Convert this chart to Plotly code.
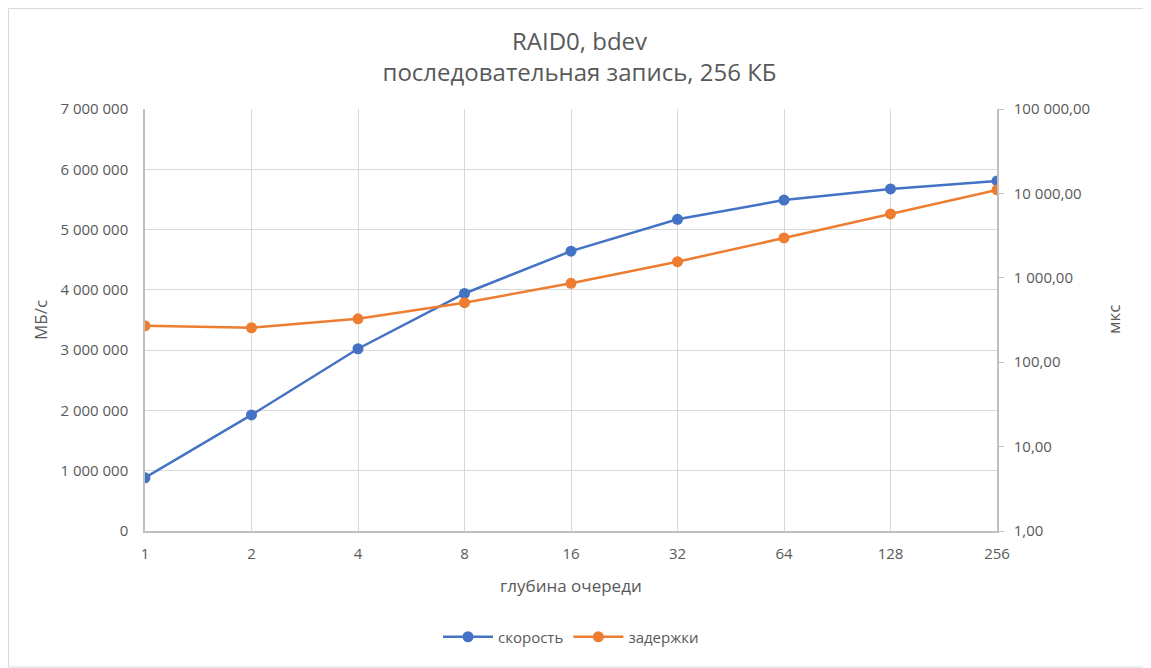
import plotly.graph_objects as go

# queue depth categories
depths = ["1", "2", "4", "8", "16", "32", "64", "128", "256"]

# throughput, MB/s (left axis)
speed = [883000, 1925000, 3023000, 3940000, 4642000, 5170000, 5490000, 5674000, 5807000]

# latency, us (right axis, log)
latency = [270, 256, 327, 507, 861, 1552, 2966, 5714, 11010]

left_ticks = [0, 1000000, 2000000, 3000000, 4000000, 5000000, 6000000, 7000000]
left_labels = ["0", "1 000 000", "2 000 000", "3 000 000", "4 000 000",
               "5 000 000", "6 000 000", "7 000 000"]
right_ticks = [1, 10, 100, 1000, 10000, 100000]
right_labels = ["1,00", "10,00", "100,00", "1 000,00", "10 000,00", "100 000,00"]

FONT = "Open Sans"
GREY = "#595959"
GRID = "#d9d9d9"
AXIS = "#bfbfbf"

fig = go.Figure()
fig.add_trace(go.Scatter(
    x=depths, y=speed, name="скорость", mode="lines+markers",
    line=dict(color="#4472c4", width=2.5),
    marker=dict(color="#4472c4", size=11),
))
fig.add_trace(go.Scatter(
    x=depths, y=latency, name="задержки", mode="lines+markers", yaxis="y2",
    line=dict(color="#ed7d31", width=2.5),
    marker=dict(color="#ed7d31", size=11),
))

# the page puts the figure 8px in from the top-left corner
OFF = 8
W, H = 1151 - OFF, 668 - OFF
L, T = 145 - OFF, 109 - OFF
R, B = 1151 - 997, 668 - 531
pw, ph = W - L - R, H - T - B


def px_x(x):
    # page x pixel -> paper coord
    return (x - OFF - L) / pw


def px_y(y):
    # page y pixel -> paper coord
    return 1 - (y - OFF - T) / ph


fig.update_layout(
    width=W, height=H,
    margin=dict(l=L, r=R, t=T, b=B),
    paper_bgcolor="white", plot_bgcolor="white",
    font=dict(family=FONT, size=15, color=GREY),
    title=dict(
        text="RAID0, bdev<br>последовательная запись, 256 КБ",
        x=0.5, xanchor="center", y=1 - (50 - OFF) / H, yanchor="middle",
        font=dict(size=24, color=GREY),
    ),
    xaxis=dict(
        type="category", range=[0, len(depths) - 1],
        showgrid=True, gridcolor=GRID, gridwidth=1,
        showline=True, linecolor=AXIS, linewidth=1.5,
        ticks="", ticklabelstandoff=8, tickfont=dict(size=15, color=GREY),
    ),
    yaxis=dict(
        range=[0, 7000000], tickvals=left_ticks, ticktext=left_labels,
        showgrid=True, gridcolor=GRID, gridwidth=1, zeroline=False,
        showline=True, linecolor=AXIS, linewidth=1.5, ticks="",
        ticklabelstandoff=12, tickfont=dict(size=15, color=GREY),
    ),
    yaxis2=dict(
        type="log", range=[0, 5], overlaying="y", side="right",
        tickvals=right_ticks, ticktext=right_labels,
        showgrid=False, zeroline=False,
        showline=True, linecolor=AXIS, linewidth=1.5,
        ticks="outside", ticklen=5, tickcolor=AXIS,
        ticklabelstandoff=7, tickfont=dict(size=15, color=GREY),
    ),
    legend=dict(
        orientation="h", x=0.5, xanchor="center",
        y=px_y(637), yanchor="middle",
        font=dict(size=15, color=GREY), itemwidth=50,
    ),
    showlegend=True,
)

# axis titles
title_font = dict(size=17, color=GREY)
fig.add_annotation(text="МБ/с", xref="paper", yref="paper", x=px_x(40), y=px_y(320),
                   xanchor="center", yanchor="middle", textangle=-90,
                   showarrow=False, font=title_font)
fig.add_annotation(text="мкс", xref="paper", yref="paper", x=px_x(1113), y=px_y(320),
                   xanchor="center", yanchor="middle", textangle=-90,
                   showarrow=False, font=title_font)
fig.add_annotation(text="глубина очереди", xref="paper", yref="paper", x=0.5, y=px_y(585),
                   xanchor="center", yanchor="middle", showarrow=False, font=title_font)

# chart area border
fig.add_shape(
    type="rect", xref="paper", yref="paper",
    x0=-(L - 0.5) / pw, x1=(W - L - 1) / pw,
    y0=-(B - 1) / ph, y1=1 + (T - 0.5) / ph,
    line=dict(color="#d9d9d9", width=1),
)

fig.write_html("out.html")
